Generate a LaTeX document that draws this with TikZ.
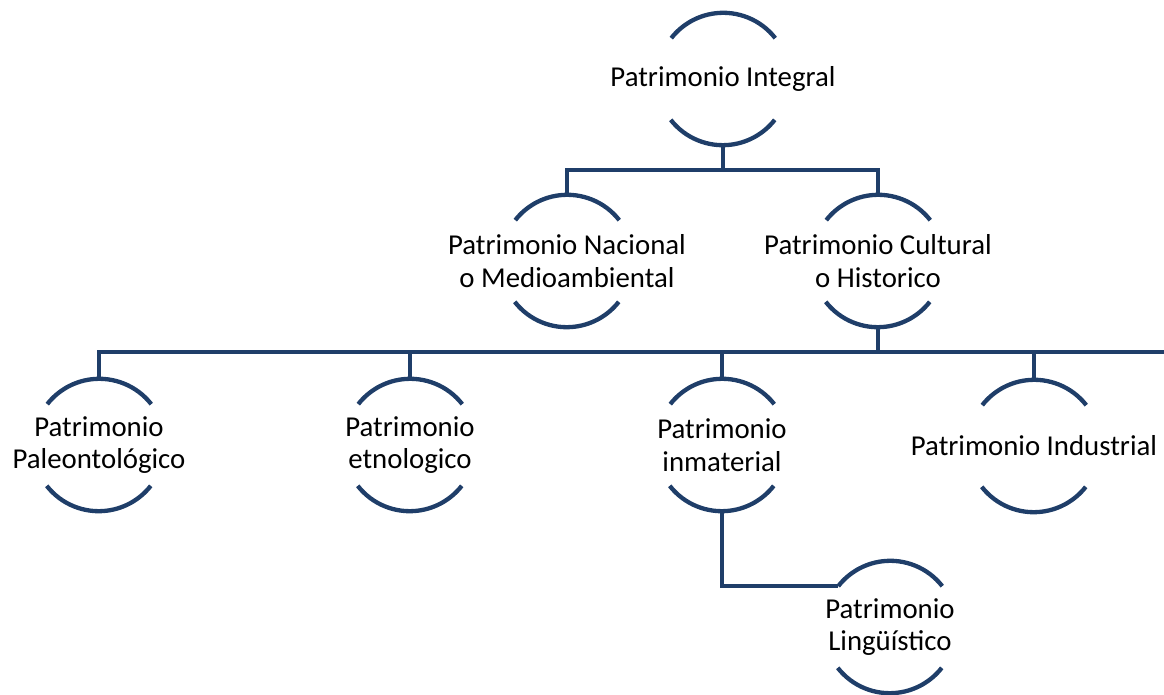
\documentclass[tikz,border=0pt]{standalone}
\usepackage{fontspec}
\setmainfont{Carlito}
\usetikzlibrary{calc}
\definecolor{ringblue}{RGB}{31,62,105}
\tikzset{
  ring/.style={circle, draw=none, inner sep=0pt, minimum size=2.64cm,
    label={[font=\fontsize{16.4}{18.7}\selectfont, align=center, text=black]center:#1}},
  arcline/.style={draw=ringblue, line width=2.45pt},
  link/.style={draw=ringblue, line width=2.45pt}
}
\newcommand{\ringarcs}[1]{%
  \draw[arcline] (#1.38) arc[start angle=38, end angle=142, radius=1.32cm];
  \draw[arcline] (#1.218) arc[start angle=218, end angle=322, radius=1.32cm];}
\begin{document}
\begin{tikzpicture}[x=0.02cm, y=-0.02cm]

    \useasboundingbox (0,0) rectangle (1164,695);

    % Rings and labels
    \node[ring={Patrimonio Integral}] (integral) at (723,79) {};
    \node[ring={Patrimonio Nacional\\o Medioambiental}] (nacional) at (567,261) {};
    \node[ring={Patrimonio Cultural\\o Historico}] (cultural) at (878,261) {};
    \node[ring={Patrimonio\\Paleontológico}] (paleo) at (99,445) {};
    \node[ring={Patrimonio\\etnologico}] (etno) at (410,445) {};
    \node[ring={Patrimonio\\inmaterial}] (inmat) at (722,445) {};
    \node[ring={Patrimonio Industrial}] (indus) at (1034,446) {};
    \node[ring={Patrimonio\\Lingüístico}] (ling) at (890,627) {};

    % Arcs around each ring
    \foreach \n in {integral,nacional,cultural,paleo,etno,inmat,indus,ling}
        {\ringarcs{\n}}

    % Bars
    \coordinate (barone) at (723,170);
    \coordinate (bartwo) at (878,352);
    \coordinate (bartwoend) at (1164,352);

    % Connectors, first level
    \draw[link] (integral.south) -- (barone);
    \draw[link] (nacional.north) |- (barone) -| (cultural.north);

    % Connectors, second level
    \draw[link] (cultural.south) -- (bartwo);
    \draw[link] (paleo.north) |- (bartwoend);
    \draw[link] (etno.north) -- (etno.north |- bartwo);
    \draw[link] (inmat.north) -- (inmat.north |- bartwo);
    \draw[link] (indus.north) -- (indus.north |- bartwo);

    % Connector to the last ring
    \draw[link] (inmat.south) |- (ling.142);

\end{tikzpicture}
\end{document}
